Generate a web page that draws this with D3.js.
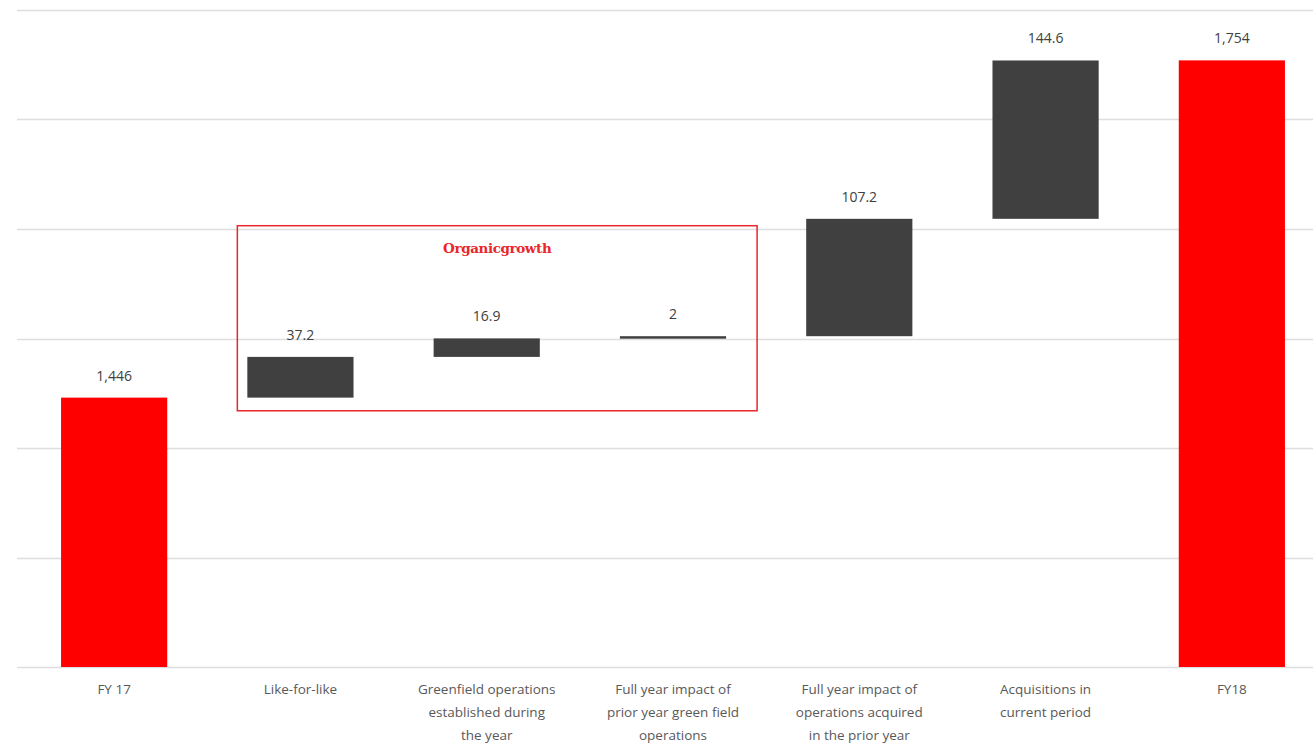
<!DOCTYPE html>
<html>
<head>
<meta charset="utf-8">
<script src="https://cdn.jsdelivr.net/npm/d3@7"></script>
<style>
  html, body { margin: 0; padding: 0; background: #fff; }
  svg { display: block; }
</style>
</head>
<body>
<svg id="chart" width="1313" height="746"></svg>
<script>
// ---- data ----
const categories = ["FY 17", "Like-for-like", "Greenfield operations", "Full year impact greenfield", "Full year impact acquired", "Acquisitions", "FY18"];
const categoryLines = [
  ["FY 17"],
  ["Like-for-like"],
  ["Greenfield operations", "established during", "the year"],
  ["Full year impact of", "prior year green field", "operations"],
  ["Full year impact of", "operations acquired", "in the prior year"],
  ["Acquisitions in", "current period"],
  ["FY18"]
];
const barTypes = ["total", "delta", "delta", "delta", "delta", "delta", "total"];
const values = [1446, 37.2, 16.9, 2, 107.2, 144.6, 1754];
const valueLabels = ["1,446", "37.2", "16.9", "2", "107.2", "144.6", "1,754"];
const gridTicks = [1200, 1300, 1400, 1500, 1600, 1700, 1800];
const yDomain = [1200, 1800];
const organicGroup = ["Like-for-like", "Greenfield operations", "Full year impact greenfield"];
const organicLabel = "Organicgrowth";
const organicRange = [1434, 1603];

// ---- build waterfall ----
let running = 0;
const bars = categories.map((c, i) => {
  let lo, hi;
  if (barTypes[i] === "total") { lo = yDomain[0]; hi = values[i]; running = values[i]; }
  else { lo = running; hi = running + values[i]; running = hi; }
  return { cat: c, lo, hi, type: barTypes[i], label: valueLabels[i], lines: categoryLines[i] };
});

const svg = d3.select("#chart");
const x = d3.scaleBand().domain(categories).range([21, 1325]).paddingInner(0.43).paddingOuter(0.215);
const y = d3.scaleLinear().domain(yDomain).range([667, 10]);

// gridlines
svg.append("g").selectAll("line").data(gridTicks).join("line")
  .attr("x1", 17).attr("x2", 1313)
  .attr("y1", d => Math.round(y(d)) + 0.5).attr("y2", d => Math.round(y(d)) + 0.5)
  .attr("stroke", "#dedede").attr("stroke-width", 1.5);

// organic growth box
const bx0 = x(organicGroup[0]) - 10;
const bx1 = x(organicGroup[2]) + x.bandwidth() + 31;
svg.append("rect")
  .attr("x", bx0).attr("y", y(organicRange[1]))
  .attr("width", bx1 - bx0).attr("height", y(organicRange[0]) - y(organicRange[1]))
  .attr("fill", "none").attr("stroke", "#e8262c").attr("stroke-width", 1.5);
svg.append("text")
  .attr("x", (bx0 + bx1) / 2).attr("y", y(organicRange[1]) + 27)
  .attr("text-anchor", "middle")
  .attr("font-family", "'DejaVu Serif', 'Liberation Serif', serif")
  .attr("font-weight", "bold").attr("font-size", 13.5)
  .attr("letter-spacing", -0.4)
  .attr("fill", "#e8262c")
  .text(organicLabel);

// bars
svg.append("g").selectAll("rect").data(bars).join("rect")
  .attr("x", d => x(d.cat)).attr("width", x.bandwidth())
  .attr("y", d => y(d.hi))
  .attr("height", d => Math.max(2.5, y(d.lo) - y(d.hi)))
  .attr("fill", d => d.type === "total" ? "#ff0000" : "#404040");

// value labels
svg.append("g").selectAll("text").data(bars).join("text")
  .attr("x", d => x(d.cat) + x.bandwidth() / 2)
  .attr("y", d => y(d.hi) - 17)
  .attr("text-anchor", "middle")
  .attr("font-family", "'Open Sans', 'Liberation Sans', sans-serif")
  .attr("font-size", 14)
  .attr("fill", "#404040")
  .text(d => d.label);

// category labels
const cl = svg.append("g").selectAll("text").data(bars).join("text")
  .attr("text-anchor", "middle")
  .attr("font-family", "'Open Sans', 'Liberation Sans', sans-serif")
  .attr("font-size", 13.5)
  .attr("fill", "#595959");
cl.selectAll("tspan").data(d => d.lines.map(l => ({ l, cx: x(d.cat) + x.bandwidth() / 2 }))).join("tspan")
  .attr("x", d => d.cx)
  .attr("y", (d, i) => 694 + i * 23)
  .text(d => d.l);
</script>
</body>
</html>
